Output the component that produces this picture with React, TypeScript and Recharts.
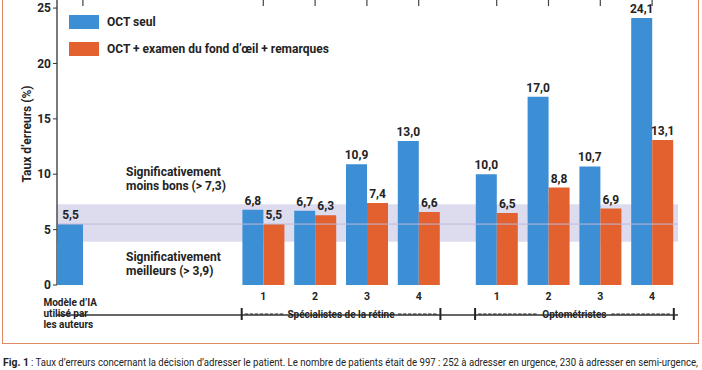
import React from 'react';
import {
  ComposedChart,
  Bar,
  XAxis,
  YAxis,
  ReferenceArea,
  ReferenceLine,
  LabelList,
  Legend,
} from 'recharts';

// ---------- data ----------
const categories = ['M', 'S1', 'S2', 'S3', 'S4', 'O1', 'O2', 'O3', 'O4'];
const tickLabels = [
  'Modèle d’IA\nutilisé par\nles auteurs',
  '1', '2', '3', '4',
  '1', '2', '3', '4',
];
const groupOf = ['model', 'spec', 'spec', 'spec', 'spec', 'opto', 'opto', 'opto', 'opto'];
const octSeul = [5.5, 6.8, 6.7, 10.9, 13.0, 10.0, 17.0, 10.7, 24.1];
const octFond: (number | null)[] = [null, 5.5, 6.3, 7.4, 6.6, 6.5, 8.8, 6.9, 13.1];
const seriesNames = ['OCT seul', 'OCT + examen du fond d’œil + remarques'];
const groupTitles: Record<string, string> = {
  spec: 'Spécialistes de la rétine',
  opto: 'Optométristes',
};
const yTicks = [0, 5, 10, 15, 20, 25];
const bandLow = 3.9;
const bandHigh = 7.3;
const aiRate = 5.5;
const upperText = ['Significativement', 'moins bons (> 7,3)'];
const lowerText = ['Significativement', 'meilleurs (> 3,9)'];
const captionBold = 'Fig. 1';
const caption =
  ': Taux d’erreurs concernant la décision d’adresser le patient. Le nombre de patients était de 997 : 252 à adresser en urgence, 230 à adresser en semi-urgence,';

// ---------- style / layout ----------
const FONT = "Roboto, 'Noto Sans', sans-serif";
const BLUE = '#3d8fd5';
const ORANGE = '#e2612e';
const TEXT = '#232323';
const AXIS = '#333';
const BAND_FILL = '#dddcef';
const CHART_TOP = -13;
const MARGIN_TOP = 10;
const PLOT_L = 57;
const PLOT_R = 678;
const PLOT_H = 288;
const PLOT_BOTTOM = MARGIN_TOP + PLOT_H; // in chart coordinates
const BAND = 51.8;
const N = categories.length;
const groupsList = ['model', 'spec', 'opto'];
const groupCenters: Record<string, { first: number; x: number }> = {
  model: { first: 0, x: 82.9 },
  spec: { first: 1, x: 263.3 },
  opto: { first: 5, x: 496.7 },
};
// half widths of the gap left around each group title in the bracket
const titleGap: Record<string, number> = { spec: 57, opto: 37 };
const padFor = (g: string) => {
  const c = groupCenters[g];
  const start = c.x - (c.first + 0.5) * BAND;
  return { left: start - PLOT_L, right: PLOT_R - (start + N * BAND) };
};

const data = categories.map((id, i) => ({
  id,
  label: tickLabels[i],
  group: groupOf[i],
  blue: octSeul[i],
  orange: octFond[i],
}));

const fmt = (v: any) => (v == null ? '' : Number(v).toFixed(1).replace('.', ','));

const BottomTick = (props: any) => {
  const { x, payload, g } = props;
  const y = PLOT_BOTTOM;
  const v = payload?.value;
  const i = typeof v === 'number' ? v : categories.indexOf(v);
  if (i < 0 || groupOf[i] !== g || !Number.isFinite(x)) return <g />;
  const topTick = <line x1={x} x2={x} y1={MARGIN_TOP} y2={MARGIN_TOP + 9} stroke="#444" strokeWidth={1.2} />;
  if (g === 'model') {
    const lines = tickLabels[i].split('\n');
    return (
      <g>
        {topTick}
        {lines.map((l, k) => (
          <text key={k} x={x - 39.5} y={y + 21 + k * 11} fontSize={10} fontWeight={700} fill={TEXT} fontFamily={FONT}>
            {l}
          </text>
        ))}
      </g>
    );
  }
  const members = groupOf.map((gg, k) => (gg === g ? k : -1)).filter((k) => k >= 0);
  const isLast = i === members[members.length - 1];
  const ly = y + 29;
  let bracket = null;
  if (isLast) {
    const left = x - (members.length - 1) * BAND - 21.6;
    const right = x + 21.7;
    const mid = x - ((members.length - 1) / 2) * BAND;
    const gap = titleGap[g];
    bracket = (
      <g>
        <line x1={left + 3} x2={mid - gap} y1={ly} y2={ly} stroke={TEXT} strokeWidth={1} strokeDasharray="3.5 1.5" />
        <line x1={mid + gap} x2={right - 3} y1={ly} y2={ly} stroke={TEXT} strokeWidth={1} strokeDasharray="3.5 1.5" />
        <line x1={left} x2={left} y1={ly - 6} y2={ly + 6} stroke={TEXT} strokeWidth={2} />
        <line x1={right} x2={right} y1={ly - 6} y2={ly + 6} stroke={TEXT} strokeWidth={2} />
        <text x={mid} y={ly + 3.5} textAnchor="middle" fontSize={10} fontWeight={700} fill={TEXT} fontFamily={FONT}>
          {groupTitles[g]}
        </text>
      </g>
    );
  }
  return (
    <g>
      {topTick}
      <text x={x} y={y + 15} textAnchor="middle" fontSize={10.5} fontWeight={700} fill={TEXT} fontFamily={FONT}>
        {tickLabels[i]}
      </text>
      {bracket}
    </g>
  );
};

const BandText = (lines: string[], dy0: number) => (props: any) => {
  const vb = props.viewBox || {};
  const x = (vb.x ?? PLOT_L) + 69;
  const y = (vb.y ?? 0) + dy0;
  return (
    <g>
      {lines.map((l, k) => (
        <text key={k} x={x} y={y + k * 14} fontSize={12} fontWeight={700} fill={TEXT} fontFamily={FONT}>
          {l}
        </text>
      ))}
    </g>
  );
};

const YLabel = (props: any) => {
  const vb = props.viewBox || {};
  const cx = (vb.x ?? 12) + 15;
  const cy = (vb.y ?? 0) + (vb.height ?? PLOT_H) / 2 - 7;
  return (
    <text
      x={cx}
      y={cy}
      transform={`rotate(-90 ${cx} ${cy})`}
      textAnchor="middle"
      dominantBaseline="central"
      fontSize={12}
      fontWeight={700}
      fill={TEXT}
      fontFamily={FONT}
    >
      Taux d’erreurs (%)
    </text>
  );
};

const LegendContent = () => (
  <div style={{ display: 'flex', flexDirection: 'column', gap: 13, fontFamily: FONT }}>
    {seriesNames.map((n, k) => (
      <div key={n} style={{ display: 'flex', alignItems: 'center', height: 14 }}>
        <span style={{ display: 'inline-block', width: 30, height: 14, background: k === 0 ? BLUE : ORANGE, marginRight: 8 }} />
        <span style={{ fontSize: 12, fontWeight: 700, color: TEXT, whiteSpace: 'nowrap' }}>{n}</span>
      </div>
    ))}
  </div>
);

export default function App() {
  return (
    <div style={{ position: 'absolute', left: 0, top: 0, width: 702, height: 370, overflow: 'hidden', background: '#fff' }}>
      <div
        style={{
          position: 'absolute',
          left: 1.5,
          top: -10,
          width: 697,
          height: 354,
          boxSizing: 'border-box',
          border: '1.5px solid #df8a64',
        }}
      />
      <div style={{ position: 'absolute', left: 0, top: CHART_TOP }}>
        <ComposedChart
          width={702}
          height={350}
          data={data}
          margin={{ top: MARGIN_TOP, right: 702 - PLOT_R, bottom: 49, left: 12 }}
          barGap={0}
          barCategoryGap={0}
        >
          <XAxis xAxisId="full" dataKey="id" hide />
          {groupsList.map((g) => (
            <XAxis
              key={g}
              xAxisId={g}
              dataKey="id"
              type="category"
              orientation="bottom"
              height={1}
              padding={padFor(g)}
              interval={0}
              tickLine={false}
              tickSize={0}
              tickMargin={0}
              axisLine={g === 'model' ? { stroke: AXIS, strokeWidth: 1.3 } : false}
              tick={(p: any) => <BottomTick {...p} g={g} />}
            />
          ))}
          <YAxis
            yAxisId="left"
            domain={[0, 26]}
            ticks={yTicks}
            width={45}
            tickSize={4}
            tickMargin={2}
            allowDataOverflow
            axisLine={{ stroke: AXIS, strokeWidth: 1.3 }}
            tickLine={{ stroke: AXIS, strokeWidth: 1 }}
            tick={{ fontSize: 12, fontWeight: 700, fill: TEXT, fontFamily: FONT }}
            label={<YLabel />}
          />
          <YAxis
            yAxisId="right"
            orientation="right"
            mirror
            domain={[0, 26]}
            ticks={yTicks}
            width={0}
            tickSize={5}
            allowDataOverflow
            axisLine={{ stroke: AXIS, strokeWidth: 1.3 }}
            tickLine={{ stroke: AXIS, strokeWidth: 1 }}
            tickFormatter={() => ''}
          />
          <ReferenceArea
            xAxisId="full"
            yAxisId="left"
            y1={bandLow}
            y2={bandHigh}
            fill={BAND_FILL}
            fillOpacity={1}
            stroke="none"
          />
          <ReferenceLine xAxisId="full" yAxisId="left" y={aiRate} stroke="#bdb9d6" strokeWidth={1} />
          <ReferenceLine
            xAxisId="full"
            yAxisId="left"
            y={bandHigh}
            stroke="none"
            label={BandText(upperText, -28.5) as any}
          />
          <ReferenceLine
            xAxisId="full"
            yAxisId="left"
            y={bandLow}
            stroke="none"
            label={BandText(lowerText, 18.7) as any}
          />
          {groupsList.map((g) => [
            <Bar
              key={g + 'b'}
              xAxisId={g}
              yAxisId="left"
              name={seriesNames[0]}
              dataKey={(d: any) => (d.group === g ? d.blue : null)}
              fill={BLUE}
              barSize={g === 'model' ? 25 : 21}
              isAnimationActive={false}
            >
              <LabelList
                position="top"
                offset={5}
                formatter={fmt}
                style={{ fontSize: 12, fontWeight: 700, fill: TEXT, fontFamily: FONT }}
              />
            </Bar>,
            <Bar
              key={g + 'o'}
              xAxisId={g}
              yAxisId="left"
              name={seriesNames[1]}
              dataKey={(d: any) => (d.group === g ? d.orange : null)}
              fill={ORANGE}
              barSize={g === 'model' ? 25 : 21}
              isAnimationActive={false}
            >
              <LabelList
                position="top"
                offset={5}
                formatter={fmt}
                style={{ fontSize: 12, fontWeight: 700, fill: TEXT, fontFamily: FONT }}
              />
            </Bar>,
          ])}
          <Legend
            layout="horizontal"
            verticalAlign="middle"
            align="center"
            wrapperStyle={{ position: 'absolute', left: 69, top: 28, width: 'auto', right: 'auto', bottom: 'auto' }}
            content={<LegendContent />}
          />
        </ComposedChart>
      </div>
      <svg width={702} height={20} style={{ position: 'absolute', left: 0, top: 352 }}>
        <text x={3} y={14} fontFamily={FONT} fontSize={11} fontWeight={700} fill={TEXT} textLength={26} lengthAdjust="spacingAndGlyphs">
          {captionBold}
        </text>
        <text x={31} y={14} fontFamily={FONT} fontSize={11} fill={TEXT} textLength={667} lengthAdjust="spacingAndGlyphs">
          {caption}
        </text>
      </svg>
    </div>
  );
}
